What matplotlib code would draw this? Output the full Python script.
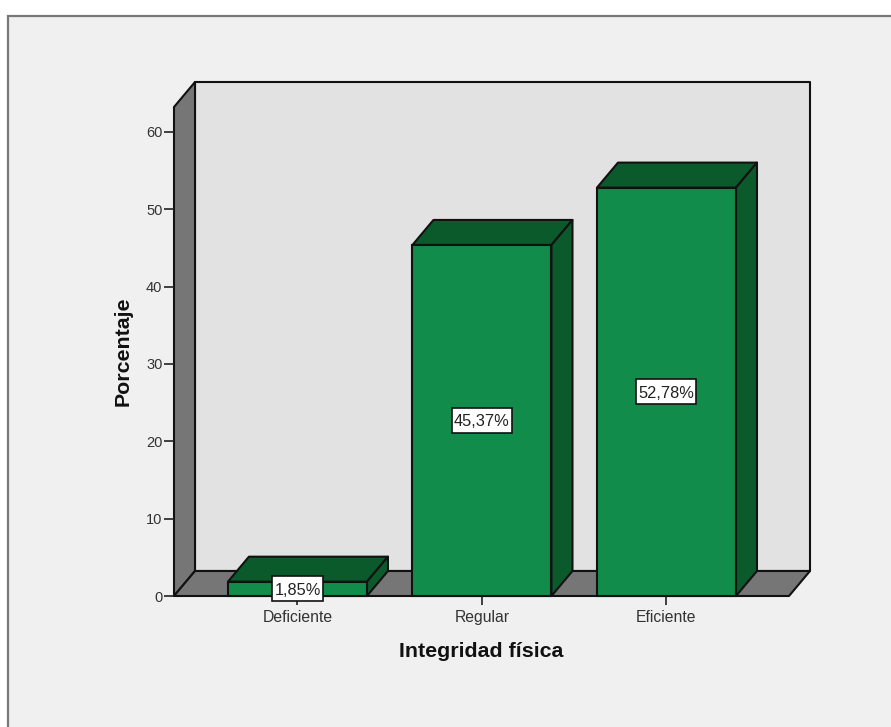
import matplotlib
matplotlib.use("Agg")
import matplotlib.pyplot as plt
from matplotlib.patches import Polygon, Rectangle

plt.rcParams['font.family'] = ['Liberation Sans', 'DejaVu Sans']

# datos
categorias = ["Deficiente", "Regular", "Eficiente"]
porcentajes = [1.85, 45.37, 52.78]
etiquetas = ["1,85%", "45,37%", "52,78%"]
ticks_y = [0, 10, 20, 30, 40, 50, 60]

# colores
fondo = "#f0f0f0"
pared = "#e2e2e2"
gris = "#767676"
verde = "#118c4a"
verde_oscuro = "#0a5a2c"
borde = "#111111"

W, H = 891, 727
fig = plt.figure(figsize=(W / 100, H / 100), dpi=100, facecolor="white")

# marco exterior (se sale por abajo y por la derecha)
fig.add_artist(Rectangle((8 / W, -0.1), 1, 1.1 - 16 / H, transform=fig.transFigure,
                         facecolor=fondo, edgecolor="#787878", linewidth=1.6, zorder=-1))

ax = fig.add_axes([174 / W, (H - 596) / H, 615 / W, 489 / H])
ax.set_xlim(-0.669, 2.664)
ax.set_ylim(0, 63.2)
ax.patch.set_visible(False)

# profundidad del efecto 3d en unidades de datos
dx = 21 / 184.5
dy = 25 / 7.733
x0, x1 = ax.get_xlim()
y1 = ax.get_ylim()[1]


def cara(puntos, color, z):
    ax.add_patch(Polygon(puntos, closed=True, facecolor=color, edgecolor=borde,
                         linewidth=1.5, joinstyle="round", clip_on=False, zorder=z))


# paredes y suelo
cara([(x0 + dx, dy), (x1 + dx, dy), (x1 + dx, y1 + dy), (x0 + dx, y1 + dy)], pared, 1)
cara([(x0, 0), (x0 + dx, dy), (x0 + dx, y1 + dy), (x0, y1)], gris, 1)
cara([(x0, 0), (x1, 0), (x1 + dx, dy), (x0 + dx, dy)], gris, 1)

# barras
ancho = 139 / 184.5
caja_h = 25 / 7.733
for i, v in enumerate(porcentajes):
    a, b = i - ancho / 2, i + ancho / 2
    cara([(a, v), (b, v), (b + dx, v + dy), (a + dx, v + dy)], verde_oscuro, 2)
    cara([(b, 0), (b + dx, dy), (b + dx, v + dy), (b, v)], verde_oscuro, 2)
    ax.bar(i, v, width=ancho, color=verde, edgecolor=borde, linewidth=1.5,
           clip_on=False, zorder=3)
    # caja blanca de la etiqueta, su ancho depende del texto
    caja_w = (len(etiquetas[i]) * 9 + 6) / 184.5
    ax.add_patch(Rectangle((i - caja_w / 2, v / 2 - caja_h / 2), caja_w, caja_h,
                           facecolor="white", edgecolor="#111111", linewidth=1.2,
                           clip_on=False, zorder=4))
    ax.text(i, v / 2, etiquetas[i], ha="center", va="center_baseline", fontsize=11.8,
            color="#222222", zorder=5)

for s in ax.spines.values():
    s.set_visible(False)

ax.set_xticks(range(len(categorias)))
ax.set_xticklabels(categorias)
ax.set_yticks(ticks_y)
ax.tick_params(axis="x", length=6.5, width=1.2, color="#222222", labelsize=11.3,
               labelcolor="#333333", pad=3.5)
ax.tick_params(axis="y", length=7.5, width=1.2, color="#222222", labelsize=10.5,
               labelcolor="#333333", pad=0.8)

ax.set_xlabel("Integridad física", fontsize=15.4, fontweight="bold", color="#111111", labelpad=12.5)
ax.set_ylabel("Porcentaje", fontsize=15.4, fontweight="bold", color="#111111", labelpad=10)

fig.savefig("out.png", dpi=100, facecolor=fig.get_facecolor())
